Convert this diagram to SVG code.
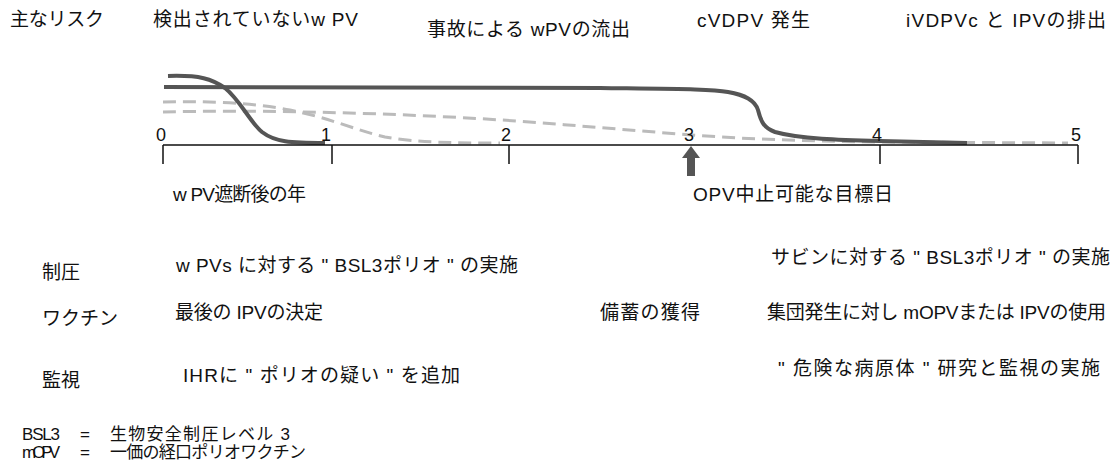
<svg xmlns="http://www.w3.org/2000/svg" width="1118" height="472" viewBox="0 0 1118 472">
<style>
text{font-family:"Liberation Sans","Noto Sans CJK JP",sans-serif;font-size:19px;fill:#111}
.num{font-size:18px;text-anchor:end}
.leg{font-size:17px}
.dk{fill:none;stroke:#555;stroke-width:4;stroke-linecap:butt}
.ds{fill:none;stroke:#bbb;stroke-width:3;stroke-dasharray:13 7}
.ax{fill:none;stroke:#111;stroke-width:1.5}
</style>
<rect width="1118" height="472" fill="#fff"/>
<g id="header">
<text x="10" y="26" textLength="94">主なリスク</text>
<text x="153" y="26" textLength="205">検出されていないw PV</text>
<text x="427" y="36" textLength="203">事故による wPVの流出</text>
<text x="697" y="27" textLength="113">cVDPV 発生</text>
<text x="906" y="27" textLength="200">iVDPVc と IPVの排出</text>
</g>
<g id="curves">
<path class="ds" d="M163,112 C250,110 350,112 450,117 C530,121 600,128 680,134 C740,139 800,141 880,142 L1068,143"/>
<path class="ds" d="M163,102 C200,101 250,102 290,110 C330,118 355,130 385,137 C420,143 460,143 500,143"/>
<path class="dk" d="M168,76 C200,75 212,79 225,88 C240,100 250,122 262,132 C275,142 290,143 325,143"/>
<path class="dk" d="M164,87 L600,88 C680,89 712,89 728,92 C745,95 755,100 758,110 C761,122 764,128 775,132 C800,139 840,140 880,141 L967,143"/>
</g>
<g id="axis">
<path class="ax" d="M163,145 H1078 M163,145 V164 M332,145 V164 M509,145 V164 M880,145 V164 M1078,145 V164"/>
<text class="num" x="166" y="141">0</text>
<text class="num" x="331" y="141">1</text>
<text class="num" x="511" y="141">2</text>
<text class="num" x="694" y="141">3</text>
<text class="num" x="882" y="141">4</text>
<text class="num" x="1081" y="141">5</text>
</g>
<g id="target-arrow">
<polygon points="691,146 682,158 700,158" fill="#555"/>
<rect x="687" y="157" width="8" height="19" fill="#555"/>
</g>
<g id="axis-labels">
<text x="173" y="201" textLength="133">w PV遮断後の年</text>
<text x="693" y="201" textLength="200">OPV中止可能な目標日</text>
</g>
<g id="row-control">
<text x="42" y="279">制圧</text>
<text x="176" y="272" textLength="342">w PVs に対する " BSL3ポリオ " の実施</text>
<text x="771" y="264" textLength="339">サビンに対する " BSL3ポリオ " の実施</text>
</g>
<g id="row-vaccine">
<text x="42" y="325">ワクチン</text>
<text x="175" y="319" textLength="148">最後の IPVの決定</text>
<text x="600" y="319" textLength="100">備蓄の獲得</text>
<text x="767" y="319" textLength="339">集団発生に対し mOPVまたは IPVの使用</text>
</g>
<g id="row-surveillance">
<text x="42" y="387">監視</text>
<text x="183" y="382" textLength="277">IHRに " ポリオの疑い " を追加</text>
<text x="778" y="375" textLength="322">" 危険な病原体 " 研究と監視の実施</text>
</g>
<g id="legend">
<text class="leg" x="22" y="440" textLength="38">BSL3</text>
<text class="leg" x="80" y="440">=</text>
<text class="leg" x="110" y="440" textLength="180">生物安全制圧レベル 3</text>
<text class="leg" x="22" y="458" textLength="38">mOPV</text>
<text class="leg" x="80" y="458">=</text>
<text class="leg" x="110" y="458" textLength="196">一価の経口ポリオワクチン</text>
</g>
</svg>
